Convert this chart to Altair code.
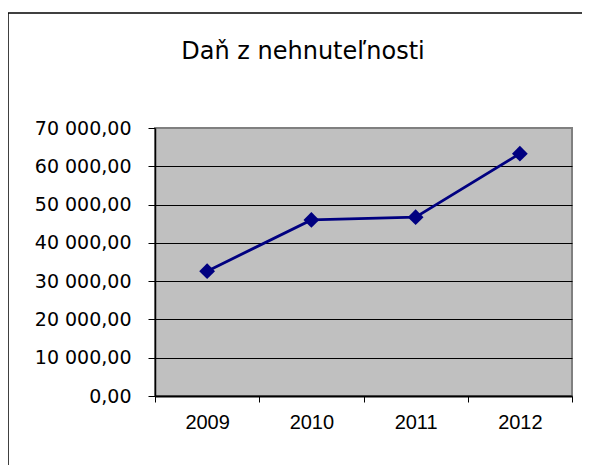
import altair as alt
import pandas as pd

years = ["2009", "2010", "2011", "2012"]
values = [32600, 46000, 46700, 63300]
title_text = "Daň z nehnuteľnosti"

df = pd.DataFrame({"year": years, "value": values})

W, H = 417, 268

base = alt.Chart(df).encode(
    x=alt.X(
        "year:N",
        title=None,
        scale=alt.Scale(type="band", paddingInner=0, paddingOuter=0),
        axis=alt.Axis(
            tickBand="extent",
            labelAngle=0,
            labelFont="Liberation Sans",
            labelFontSize=20,
            labelColor="#000000",
            labelPadding=10,
            tickSize=6,
            tickColor="#000000",
            domainColor="#000000",
            domainWidth=2,
            grid=False,
        ),
    ),
    y=alt.Y(
        "value:Q",
        title=None,
        scale=alt.Scale(domain=[0, 70000], nice=False),
        axis=alt.Axis(
            values=[0, 10000, 20000, 30000, 40000, 50000, 60000, 70000],
            labelExpr="replace(replace(format(datum.value, ',.2f'), regexp(',', 'g'), ' '), '.', ',')",
            labelFont="DejaVu Sans",
            labelFontSize=19,
            labelColor="#000000",
            labelPadding=17,
            tickSize=7,
            tickColor="#000000",
            domainColor="#000000",
            domainWidth=1.5,
            grid=True,
            gridColor="#000000",
            gridWidth=1,
            gridOpacity={"condition": {"test": "datum.value == 70000 || datum.value == 0", "value": 0}, "value": 1},
        ),
    ),
)

line = base.mark_line(color="#000080", strokeWidth=2.8)
pts = base.mark_point(shape="diamond", filled=True, size=250, color="#000080", opacity=1)

frame_data = alt.Data(values=[{"t": title_text}])
top_rule = alt.Chart(frame_data).mark_rule(color="#000000", strokeWidth=1.5).encode(
    x=alt.value(-147), x2=alt.value(430), y=alt.value(-115)
)
left_rule = alt.Chart(frame_data).mark_rule(color="#000000", strokeWidth=1.5).encode(
    x=alt.value(-147), y=alt.value(-115), y2=alt.value(340)
)
title = alt.Chart(frame_data).mark_text(
    font="DejaVu Sans", fontSize=24, color="#000000", align="center", baseline="alphabetic"
).encode(
    x=alt.value(148), y=alt.value(-69), text="t:N"
)

chart = alt.layer(line, pts, top_rule, left_rule, title).properties(
    width=W,
    height=H,
    autosize="none",
    padding={"left": 147, "top": 120, "right": 10, "bottom": 69},
    background="#ffffff",
).configure_view(
    fill="#c0c0c0", stroke="#808080", strokeWidth=2
)

chart.save("out.html", embed_options={"renderer": "svg", "actions": False})
